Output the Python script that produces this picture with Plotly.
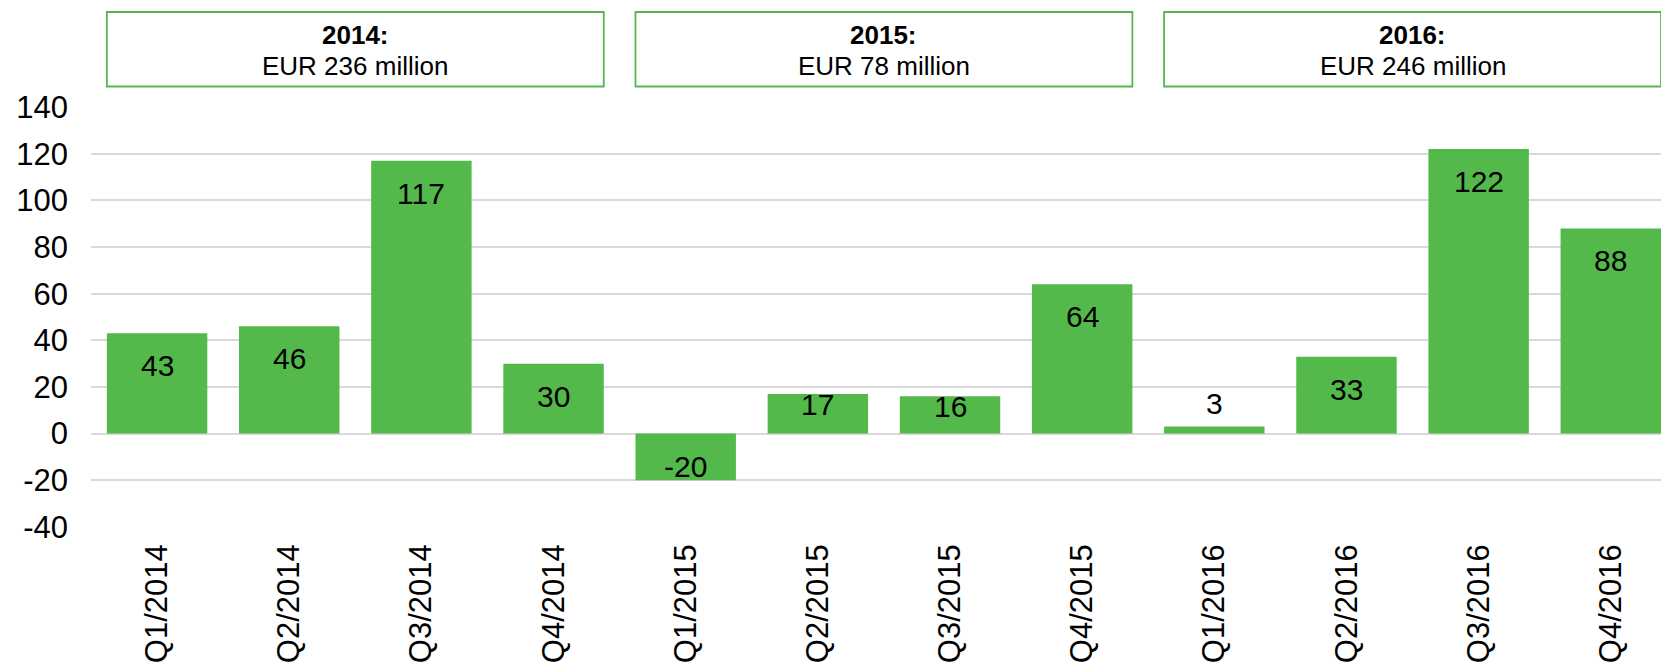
import plotly.graph_objects as go

# ---- data ----
quarters = ["Q1/2014", "Q2/2014", "Q3/2014", "Q4/2014",
            "Q1/2015", "Q2/2015", "Q3/2015", "Q4/2015",
            "Q1/2016", "Q2/2016", "Q3/2016", "Q4/2016"]
values = [43, 46, 117, 30, -20, 17, 16, 64, 3, 33, 122, 88]
years = ["2014", "2015", "2016"]
year_totals = [236, 78, 246]
y_ticks = [-40, -20, 0, 20, 40, 60, 80, 100, 120, 140]

# ---- style ----
W, H = 1661, 669
M_L, M_R, M_T, M_B = 91, 0, 107, 142
GREEN = "#53B94A"
FONT = "Arial, Liberation Sans, sans-serif"
BARGAP = 0.24
half = (1 - BARGAP) / 2
EPS = 0.05
ymin, ymax = y_ticks[0] - EPS, y_ticks[-1] + EPS
plot_h = H - M_T - M_B
px_per_unit = plot_h / (ymax - ymin)

xs = list(range(len(quarters)))

fig = go.Figure()
fig.add_trace(go.Bar(
    x=xs, y=values, marker=dict(color=GREEN, line=dict(width=0)),
    width=1 - BARGAP, hoverinfo="skip", showlegend=False,
))

annotations = []
# data labels (Excel "inside end" style)
for x, v in zip(xs, values):
    h = abs(v) * px_per_unit
    if v >= 0:
        if h >= 60:
            shift = -32.5
        elif h >= 20:
            shift = -10.5
        else:
            shift = 23
    else:
        shift = 13.5
    annotations.append(dict(
        x=x, y=v, xref="x", yref="y", text=str(v), showarrow=False,
        yshift=shift, yanchor="middle", xanchor="center",
        font=dict(family=FONT, size=30, color="#000000"),
    ))

# yearly summary boxes (pixel positions measured from the page top)
shapes = []
def paper_y(px):
    return (H - M_B - px) / plot_h

for i, (yr, tot) in enumerate(zip(years, year_totals)):
    x0 = 4 * i - half
    x1 = 4 * i + 3 + half
    shapes.append(dict(
        type="rect", xref="x", yref="paper", x0=x0, x1=x1,
        y0=paper_y(86.5), y1=paper_y(12),
        line=dict(color=GREEN, width=1.8), fillcolor="white", layer="above",
    ))
    xc = (x0 + x1) / 2
    annotations.append(dict(
        x=xc, y=paper_y(35), xref="x", yref="paper", text=f"<b>{yr}:</b>",
        showarrow=False, yanchor="middle", xanchor="center",
        font=dict(family=FONT, size=26, color="#000000"),
    ))
    annotations.append(dict(
        x=xc, y=paper_y(66.5), xref="x", yref="paper", text=f"EUR {tot} million",
        showarrow=False, yanchor="middle", xanchor="center",
        font=dict(family=FONT, size=26, color="#000000"),
    ))

fig.update_layout(
    width=W, height=H,
    margin=dict(l=M_L, r=M_R, t=M_T, b=M_B, pad=0, autoexpand=False),
    paper_bgcolor="white", plot_bgcolor="white",
    bargap=BARGAP,
    font=dict(family=FONT, size=30, color="#000000"),
    xaxis=dict(
        range=[-0.5, len(quarters) - 1 + half],
        tickmode="array", tickvals=xs, ticktext=quarters,
        tickangle=-90, showgrid=False, zeroline=False, showline=False,
        ticks="", ticklabelstandoff=10, automargin=False,
        tickfont=dict(family=FONT, size=31, color="#000000"),
    ),
    yaxis=dict(
        range=[ymin, ymax], tickmode="array", tickvals=y_ticks,
        ticktext=[str(t) for t in y_ticks],
        showgrid=True, gridcolor="#D9D9D9", gridwidth=2,
        zeroline=False, showline=False, ticks="", ticklabelstandoff=22,
        automargin=False,
        tickfont=dict(family=FONT, size=31, color="#000000"),
    ),
    shapes=shapes,
    annotations=annotations,
)

fig.write_html(
    "out.html",
    config={"displayModeBar": False},
    post_script="document.body.style.margin='0';document.body.style.overflow='hidden';",
)
